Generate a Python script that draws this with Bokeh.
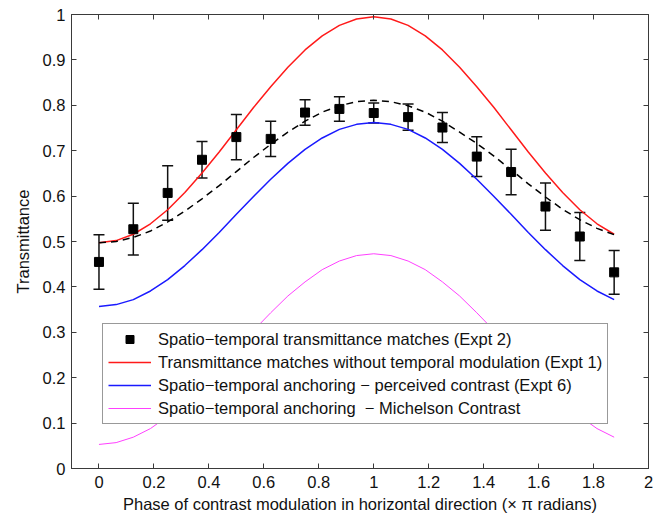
from bokeh.plotting import figure
from bokeh.models import (Range1d, LinearAxis, FixedTicker, Whisker, TeeHead,
                          ColumnDataSource, Legend, LegendItem, CustomJSTickFormatter)
from bokeh.embed import file_html
from bokeh.resources import INLINE

# ---- data ----
phase = [0.0, 0.125, 0.25, 0.375, 0.5, 0.625, 0.75, 0.875, 1.0,
         1.125, 1.25, 1.375, 1.5, 1.625, 1.75, 1.875]
matches = [0.455, 0.527, 0.607, 0.680, 0.730, 0.726, 0.784, 0.792, 0.783,
           0.774, 0.751, 0.687, 0.653, 0.577, 0.511, 0.432]
err = [0.060, 0.057, 0.060, 0.040, 0.050, 0.039, 0.028, 0.027, 0.022,
       0.029, 0.033, 0.044, 0.050, 0.052, 0.053, 0.048]

curve_x = [0.0, 0.0625, 0.125, 0.1875, 0.25, 0.3125, 0.375, 0.4375, 0.5,
           0.5625, 0.625, 0.6875, 0.75, 0.8125, 0.875, 0.9375, 1.0,
           1.0625, 1.125, 1.1875, 1.25, 1.3125, 1.375, 1.4375, 1.5,
           1.5625, 1.625, 1.6875, 1.75, 1.8125, 1.875]
red_expt1 = [0.497, 0.502, 0.516, 0.539, 0.570, 0.608, 0.651, 0.697, 0.746,
             0.795, 0.841, 0.884, 0.922, 0.953, 0.976, 0.990, 0.995,
             0.990, 0.976, 0.953, 0.922, 0.884, 0.841, 0.795, 0.746,
             0.697, 0.651, 0.608, 0.570, 0.539, 0.516]
blue_expt6 = [0.357, 0.361, 0.372, 0.391, 0.416, 0.447, 0.482, 0.520, 0.560,
              0.599, 0.637, 0.672, 0.703, 0.728, 0.747, 0.758, 0.762,
              0.758, 0.747, 0.728, 0.703, 0.672, 0.637, 0.599, 0.560,
              0.520, 0.482, 0.447, 0.416, 0.391, 0.372]
magenta_michelson = [0.053, 0.057, 0.069, 0.088, 0.115, 0.146, 0.183, 0.222, 0.263,
                     0.304, 0.343, 0.380, 0.411, 0.438, 0.457, 0.469, 0.473,
                     0.469, 0.457, 0.438, 0.411, 0.380, 0.343, 0.304, 0.263,
                     0.222, 0.183, 0.146, 0.115, 0.088, 0.069]
dashed_fit = [0.497, 0.500, 0.509, 0.523, 0.543, 0.567, 0.594, 0.623, 0.654,
              0.685, 0.714, 0.741, 0.765, 0.785, 0.799, 0.808, 0.811,
              0.808, 0.799, 0.785, 0.765, 0.741, 0.716, 0.688, 0.658,
              0.627, 0.598, 0.571, 0.548, 0.529, 0.515]

x_ticks = [0, 0.2, 0.4, 0.6, 0.8, 1, 1.2, 1.4, 1.6, 1.8, 2]
y_ticks = [0, 0.1, 0.2, 0.3, 0.4, 0.5, 0.6, 0.7, 0.8, 0.9, 1]

labels = ["Spatio\u2212temporal transmittance matches (Expt 2)",
          "Transmittance matches without temporal modulation (Expt 1)",
          "Spatio\u2212temporal anchoring \u2212 perceived contrast (Expt 6)",
          "Spatio\u2212temporal anchoring\u00a0 \u2212 Michelson Contrast"]

FONT = "Liberation Sans"
FS = "16.5px"
AX = "#3a3a3a"

p = figure(frame_width=577, frame_height=454,
           x_range=Range1d(-0.1, 2), y_range=Range1d(0, 1),
           output_backend="svg", toolbar_location=None,
           min_border_left=71, min_border_right=9, min_border_top=14, min_border_bottom=10)
p.grid.visible = False
p.outline_line_color = AX
p.background_fill_color = "white"
p.border_fill_color = "white"

fmt = CustomJSTickFormatter(code="return String(Math.round(tick*10)/10)")
for ax, ticks in ((p.xaxis[0], x_ticks), (p.yaxis[0], y_ticks)):
    ax.ticker = FixedTicker(ticks=ticks)
    ax.formatter = fmt
    ax.major_tick_in = 5
    ax.major_tick_out = 0
    ax.minor_tick_line_color = None
    ax.axis_line_color = AX
    ax.major_tick_line_color = AX
    ax.major_label_text_font = FONT
    ax.major_label_text_font_size = FS
    ax.major_label_text_color = "#111111"
    ax.axis_label_text_font = FONT
    ax.axis_label_text_font_size = FS
    ax.axis_label_text_font_style = "normal"
    ax.axis_label_text_color = "#111111"

p.xaxis.axis_label = "Phase of contrast modulation in horizontal direction (\u00d7 \u03c0 radians)"
p.yaxis.axis_label = "Transmittance"
p.xaxis.major_label_standoff = 7
p.yaxis.major_label_standoff = 6
p.xaxis.axis_label_standoff = 4
p.yaxis.axis_label_standoff = 8

empty_fmt = CustomJSTickFormatter(code="return ''")
for loc, ticks in (("above", x_ticks), ("right", y_ticks)):
    a = LinearAxis(ticker=FixedTicker(ticks=ticks), formatter=empty_fmt,
                   major_label_text_font_size="0px", major_label_standoff=0,
                   major_tick_in=5, major_tick_out=0, minor_tick_line_color=None,
                   axis_line_color=AX, major_tick_line_color=AX)
    p.add_layout(a, loc)

r_red = p.line(curve_x, red_expt1, line_color="#ff1a1a", line_width=1.5)
r_blue = p.line(curve_x, blue_expt6, line_color="#1a1aff", line_width=1.5)
r_mag = p.line(curve_x, magenta_michelson, line_color="#ff40ff", line_width=1)
p.line(curve_x, dashed_fit, line_color="black", line_width=1.5, line_dash="7 5")

src = ColumnDataSource(dict(x=phase, y=matches,
                            upper=[m + e for m, e in zip(matches, err)],
                            lower=[m - e for m, e in zip(matches, err)]))
wh = Whisker(source=src, base="x", upper="upper", lower="lower",
             line_color="#111111", line_width=1.5,
             upper_head=TeeHead(size=11, line_color="#111111", line_width=1.5),
             lower_head=TeeHead(size=11, line_color="#111111", line_width=1.5))
p.add_layout(wh)
r_pts = p.scatter("x", "y", source=src, marker="square", size=9,
                  fill_color="black", line_color="black")

legend = Legend(items=[LegendItem(label=labels[0], renderers=[r_pts]),
                       LegendItem(label=labels[1], renderers=[r_red]),
                       LegendItem(label=labels[2], renderers=[r_blue]),
                       LegendItem(label=labels[3], renderers=[r_mag])],
                location=(31, 44), padding=5, spacing=3,
                glyph_height=20, glyph_width=43, label_standoff=7,
                label_text_font=FONT, label_text_font_size=FS,
                label_text_color="#111111", label_height=20,
                border_line_color="#333333", border_line_width=1,
                background_fill_color="white", background_fill_alpha=1.0,
                margin=0)
p.add_layout(legend, "center")

open("out.html", "w").write(file_html(p, INLINE))
